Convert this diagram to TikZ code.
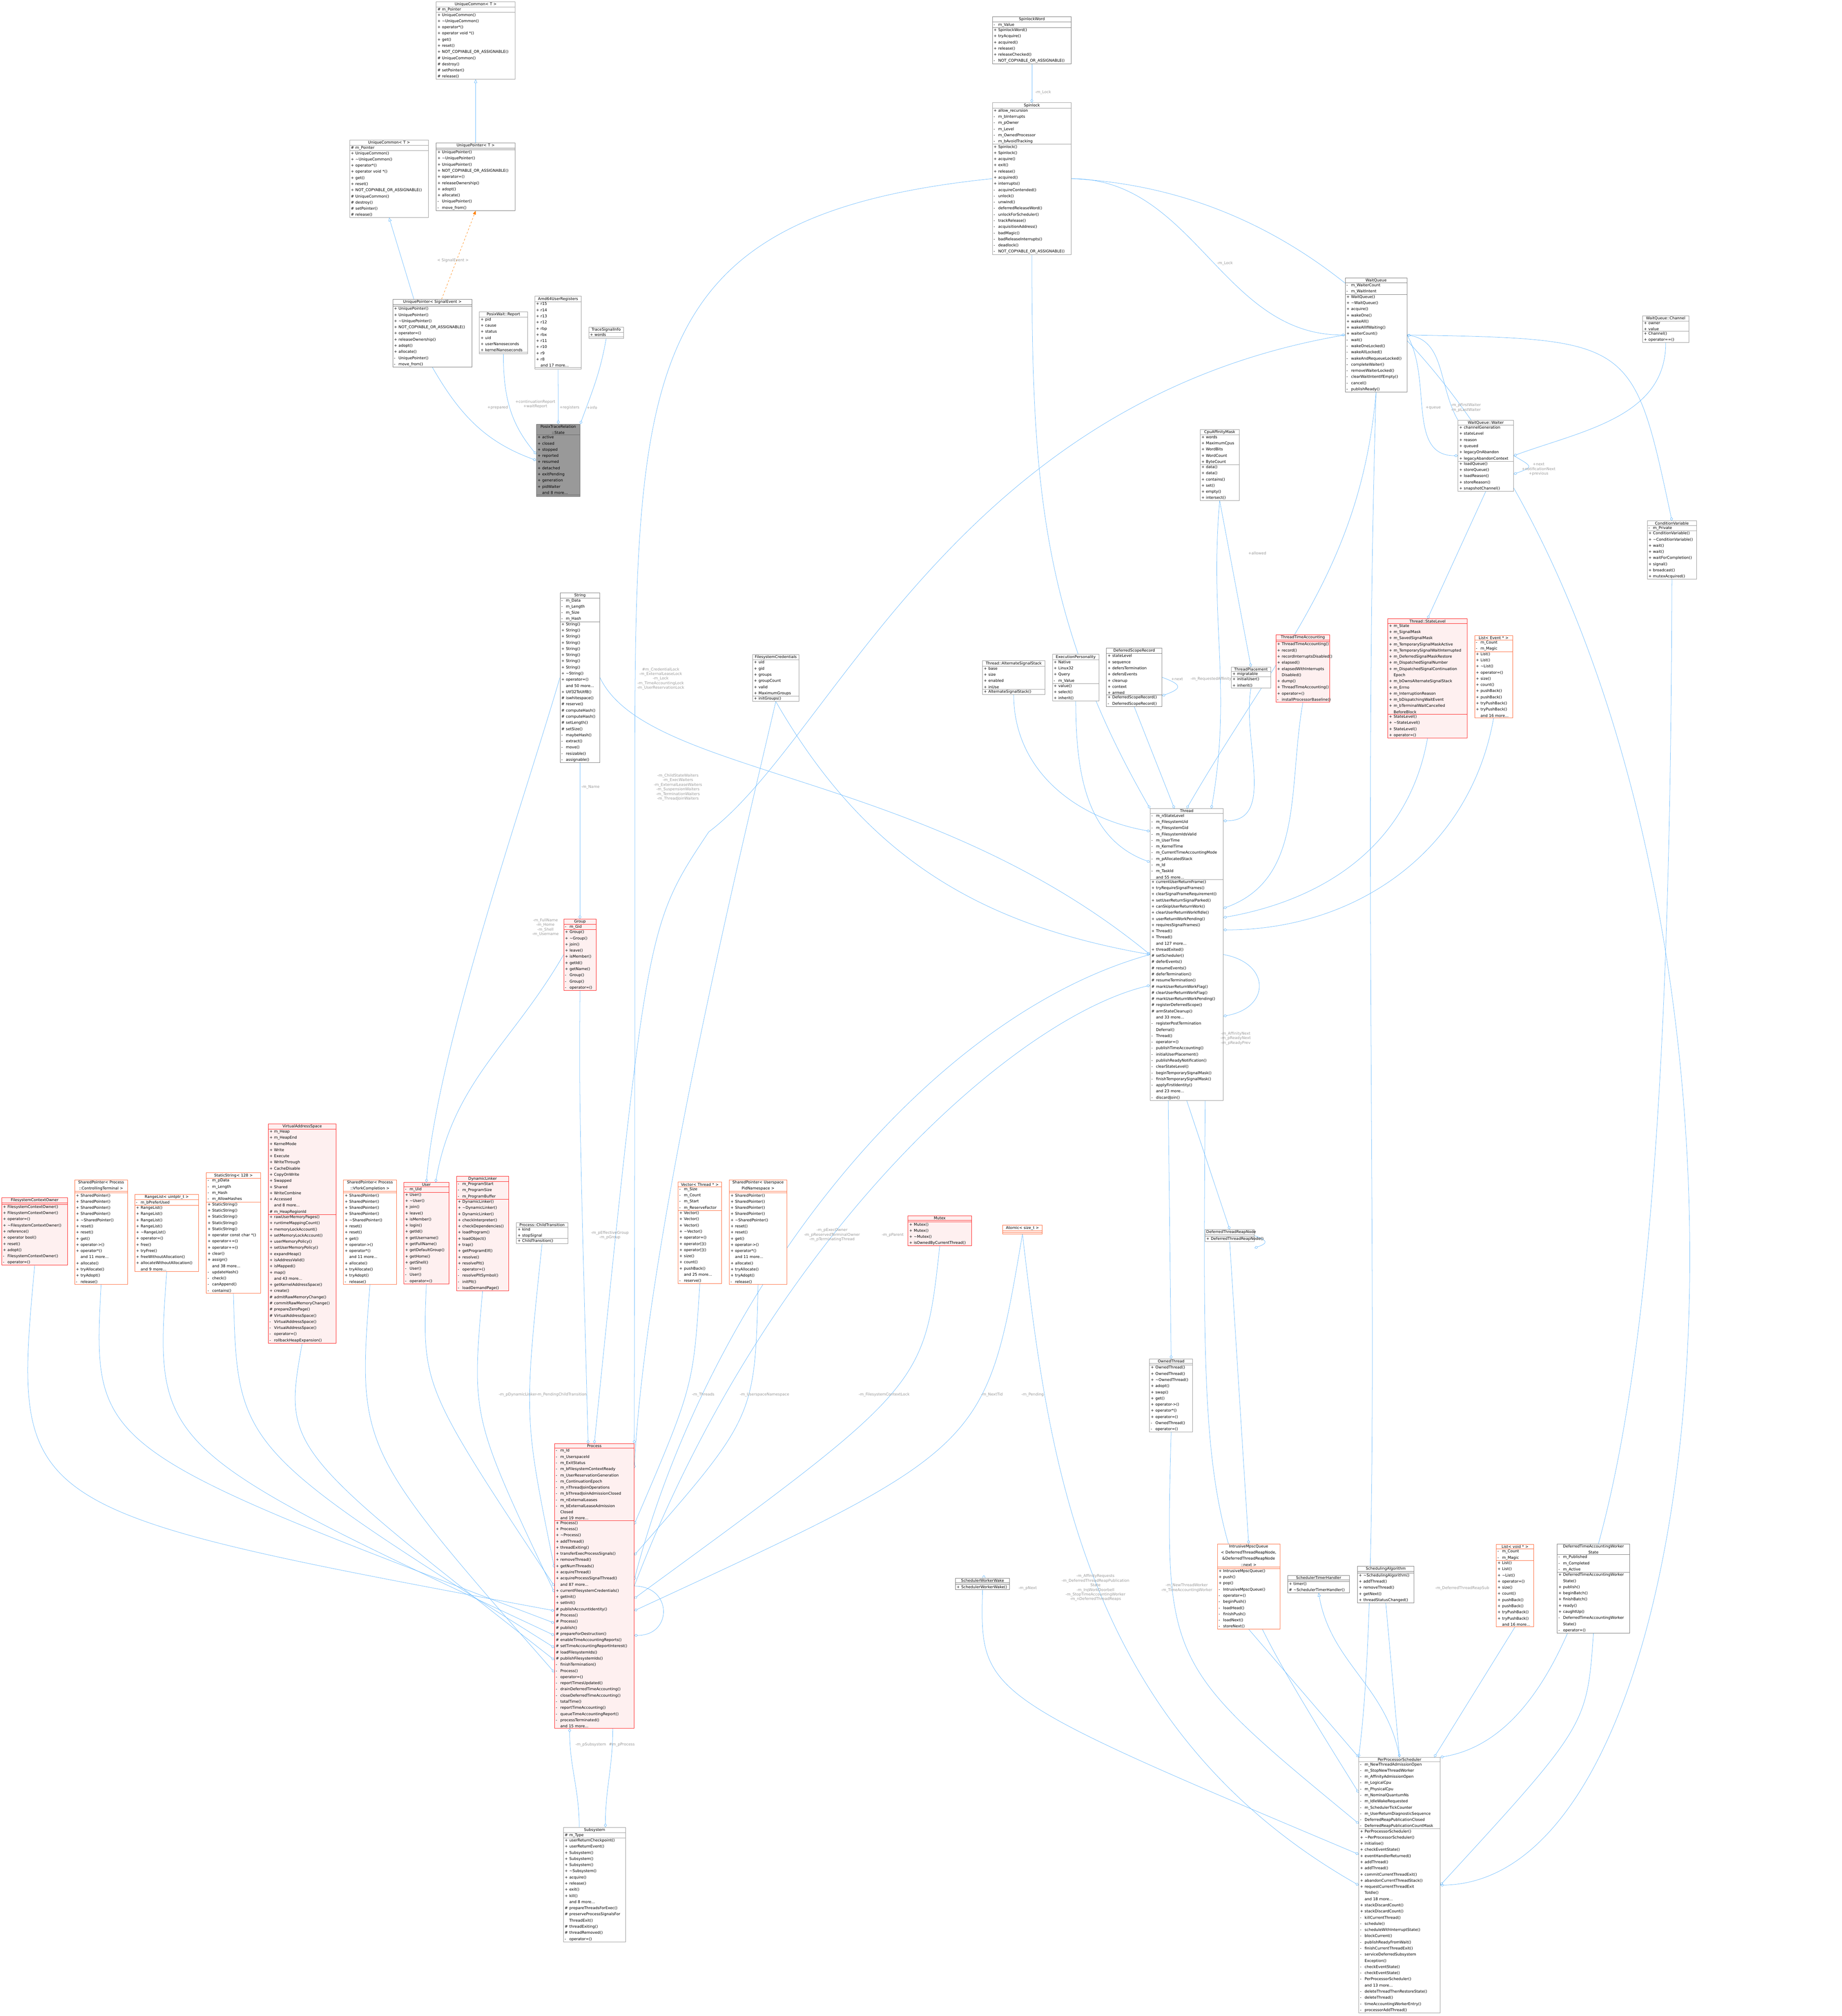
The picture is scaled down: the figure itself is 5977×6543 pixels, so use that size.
\documentclass[tikz,border=0pt]{standalone}
\usepackage{fontspec}
\setmainfont{DejaVu Sans}
\usepackage{underscore}
\usetikzlibrary{shapes.multipart,arrows.meta,backgrounds,calc}

\definecolor{edgeblue}{RGB}{99,184,255}
\definecolor{labelgray}{RGB}{154,154,154}
\definecolor{boxgray}{RGB}{150,150,150}
\definecolor{boxred}{RGB}{255,20,20}
\definecolor{boxredfill}{RGB}{254,240,240}
\definecolor{boxorange}{RGB}{255,100,50}
\definecolor{boxmain}{RGB}{153,153,153}

\newcommand{\umlfont}{\fontsize{6.2}{10}\selectfont}
\newcommand{\relfont}{\fontsize{6.2}{7.5}\selectfont}
\newcommand{\Pu}{\makebox[1.2em][l]{+}}
\newcommand{\Pv}{\makebox[1.2em][l]{-}}
\newcommand{\Ps}{\makebox[1.2em][l]{\#}}
\newcommand{\Pn}{\makebox[1.2em][l]{}}
\newcommand{\tl}{\textasciitilde}

\tikzset{
  cls/.style={rectangle split, rectangle split parts=3, draw=boxgray, fill=white,
    line width=0.6pt, inner xsep=2pt, inner ysep=1pt, font=\umlfont, align=left,
    anchor=north west},
  clsred/.style={cls, draw=boxred, fill=boxredfill},
  clsorange/.style={cls, draw=boxorange},
  clsmain/.style={cls, draw=black!60, fill=boxmain},
  has/.style={draw=edgeblue, line width=0.5pt, -{Diamond[open,length=6pt,width=4.5pt]}},
  isa/.style={draw=edgeblue, line width=0.5pt, -{Triangle[open,length=6pt,width=5pt]}},
  tmpl/.style={draw=orange, dashed, line width=0.5pt, -{Triangle[length=6pt,width=5pt]}},
  rel/.style={font=\relfont, text=labelgray, align=center, inner sep=0pt},
}

% class box: style, name, x, y, width, title, attributes, methods
\newcommand{\umlclass}[8]{%
  \node[#1, text width=#5*0.5pt-4pt] (#2) at (#3,#4)
    {\parbox{\linewidth}{\centering #6}\nodepart{two}#7\nodepart{three}#8};}

\begin{document}
\begin{tikzpicture}[x=0.5pt,y=-0.5pt]
\useasboundingbox (0,0) rectangle (5977,6543);

% ----------------------------------------------------------
% Top: pointers, registers, spinlocks
% ----------------------------------------------------------
\umlclass{cls}{ucTop}{1415}{5}{256}{UniqueCommon< T >}
  {\Ps m_Pointer}
  {\Pu UniqueCommon()\\\Pu \tl UniqueCommon()\\\Pu operator*()\\\Pu operator void *()\\\Pu get()\\\Pu reset()\\\Pu NOT_COPYABLE_OR_ASSIGNABLE()\\\Ps UniqueCommon()\\\Ps destroy()\\\Ps setPointer()\\\Ps release()}
\umlclass{cls}{ucLeft}{1134}{454}{256}{UniqueCommon< T >}
  {\Ps m_Pointer}
  {\Pu UniqueCommon()\\\Pu \tl UniqueCommon()\\\Pu operator*()\\\Pu operator void *()\\\Pu get()\\\Pu reset()\\\Pu NOT_COPYABLE_OR_ASSIGNABLE()\\\Ps UniqueCommon()\\\Ps destroy()\\\Ps setPointer()\\\Ps release()}
\umlclass{cls, draw=black!55}{upt}{1415}{463}{256}{UniquePointer< T >}
  {\mbox{}}
  {\Pu UniquePointer()\\\Pu \tl UniquePointer()\\\Pu UniquePointer()\\\Pu NOT_COPYABLE_OR_ASSIGNABLE()\\\Pu operator=()\\\Pu releaseOwnership()\\\Pu adopt()\\\Pu allocate()\\\Pv UniquePointer()\\\Pv move_from()}
\umlclass{cls, draw=black!55}{upse}{1274}{971}{257}{UniquePointer< SignalEvent >}
  {\mbox{}}
  {\Pu UniquePointer()\\\Pu UniquePointer()\\\Pu \tl UniquePointer()\\\Pu NOT_COPYABLE_OR_ASSIGNABLE()\\\Pu operator=()\\\Pu releaseOwnership()\\\Pu adopt()\\\Pu allocate()\\\Pv UniquePointer()\\\Pv move_from()}
\umlclass{cls}{report}{1555}{1011}{156}{PosixWait::Report}
  {\Pu pid\\\Pu cause\\\Pu status\\\Pu uid\\\Pu userNanoseconds\\\Pu kernelNanoseconds}
  {\mbox{}}
\umlclass{cls}{amd}{1735}{961}{151}{Amd64UserRegisters}
  {\Pu r15\\\Pu r14\\\Pu r13\\\Pu r12\\\Pu rbp\\\Pu rbx\\\Pu r11\\\Pu r10\\\Pu r9\\\Pu r8\\\Pn and 17 more...}
  {\mbox{}}
\umlclass{cls}{tsi}{1910}{1061}{113}{TraceSignalInfo}
  {\Pu words}
  {\mbox{}}
\umlclass{clsmain}{state}{1740}{1376}{142}{PosixTraceRelation\\::State}
  {\Pu active\\\Pu closed\\\Pu stopped\\\Pu reported\\\Pu resumed\\\Pu detached\\\Pu exitPending\\\Pu generation\\\Pu pidWaiter\\\Pn and 8 more...}
  {\mbox{}}
\umlclass{cls, draw=black!55}{spinword}{3220}{54}{256}{SpinlockWord}
  {\Pv m_Value}
  {\Pu SpinlockWord()\\\Pu tryAcquire()\\\Pu acquired()\\\Pu release()\\\Pu releaseChecked()\\\Pv NOT_COPYABLE_OR_ASSIGNABLE()}
\umlclass{cls}{spinlock}{3220}{333}{256}{Spinlock}
  {\Pu allow_recursion\\\Pv m_bInterrupts\\\Pv m_pOwner\\\Pv m_Level\\\Pv m_OwnedProcessor\\\Pv m_bAvoidTracking}
  {\Pu Spinlock()\\\Pu Spinlock()\\\Pu acquire()\\\Pu exit()\\\Pu release()\\\Pu acquired()\\\Pu interrupts()\\\Pv acquireContended()\\\Pv unlock()\\\Pv unwind()\\\Pv deferredReleaseWord()\\\Pv unlockForScheduler()\\\Pv trackRelease()\\\Pv acquisitionAddress()\\\Pv badMagic()\\\Pv badReleaseInterrupts()\\\Pv deadlock()\\\Pv NOT_COPYABLE_OR_ASSIGNABLE()}

% ----------------------------------------------------------
% Wait queues
% ----------------------------------------------------------
\umlclass{cls, draw=black!55}{waitqueue}{4365}{901}{200}{WaitQueue}
  {\Pv m_WaiterCount\\\Pv m_WaitIntent}
  {\Pu WaitQueue()\\\Pu \tl WaitQueue()\\\Pu acquire()\\\Pu wakeOne()\\\Pu wakeAll()\\\Pu wakeAllIfWaiting()\\\Pu waiterCount()\\\Pv wait()\\\Pv wakeOneLocked()\\\Pv wakeAllLocked()\\\Pv wakeAndRequeueLocked()\\\Pv completeWaiter()\\\Pv removeWaiterLocked()\\\Pv clearWaitIntentIfEmpty()\\\Pv cancel()\\\Pv publishReady()}
\umlclass{cls}{channel}{5330}{1025}{150}{WaitQueue::Channel}
  {\Pu owner\\\Pu value}
  {\Pu Channel()\\\Pu operator==()}
\umlclass{cls}{waiter}{4731}{1363}{180}{WaitQueue::Waiter}
  {\Pu channelGeneration\\\Pu stateLevel\\\Pu reason\\\Pu queued\\\Pu legacyOnAbandon\\\Pu legacyAbandonContext}
  {\Pu loadQueue()\\\Pu storeQueue()\\\Pu loadReason()\\\Pu storeReason()\\\Pu snapshotChannel()}
\umlclass{cls}{condvar}{5345}{1690}{160}{ConditionVariable}
  {\Pv m_Private}
  {\Pu ConditionVariable()\\\Pu \tl ConditionVariable()\\\Pu wait()\\\Pu wait()\\\Pu waitForCompletion()\\\Pu signal()\\\Pu broadcast()\\\Pu mutexAcquired()}

% ----------------------------------------------------------
% Thread and its parts
% ----------------------------------------------------------
\umlclass{cls}{cpu}{3894}{1393}{127}{CpuAffinityMask}
  {\Pu words\\\Pu MaximumCpus\\\Pu WordBits\\\Pu WordCount\\\Pu ByteCount}
  {\Pu data()\\\Pu data()\\\Pu contains()\\\Pu set()\\\Pu empty()\\\Pu intersect()}
\umlclass{cls, draw=black!55}{string}{1817}{1923}{129}{String}
  {\Pv m_Data\\\Pv m_Length\\\Pv m_Size\\\Pv m_Hash}
  {\Pu String()\\\Pu String()\\\Pu String()\\\Pu String()\\\Pu String()\\\Pu String()\\\Pu String()\\\Pu String()\\\Pu \tl String()\\\Pu operator=()\\\Pn and 50 more...\\\Pu Utf32ToUtf8()\\\Ps iswhitespace()\\\Ps reserve()\\\Ps computeHash()\\\Ps computeHash()\\\Ps setLength()\\\Ps setSize()\\\Pv maybeHash()\\\Pv extract()\\\Pv move()\\\Pv resizable()\\\Pv assignable()}
\umlclass{cls}{fcred}{2442}{2124}{150}{FilesystemCredentials}
  {\Pu uid\\\Pu gid\\\Pu groups\\\Pu groupCount\\\Pu valid\\\Pu MaximumGroups}
  {\Pu initGroups()}
\umlclass{cls}{altstack}{3188}{2144}{202}{Thread::AlternateSignalStack}
  {\Pu base\\\Pu size\\\Pu enabled\\\Pu inUse}
  {\Pu AlternateSignalStack()}
\umlclass{cls}{execpers}{3415}{2123}{151}{ExecutionPersonality}
  {\Pu Native\\\Pu Linux32\\\Pu Query\\\Pv m_Value}
  {\Pu value()\\\Pu select()\\\Pu inherit()}
\umlclass{cls, draw=black!55}{dsr}{3590}{2103}{180}{DeferredScopeRecord}
  {\Pu stateLevel\\\Pu sequence\\\Pu defersTermination\\\Pu defersEvents\\\Pu cleanup\\\Pu context\\\Pu armed}
  {\Pu DeferredScopeRecord()\\\Pv DeferredScopeRecord()}
\umlclass{cls}{placement}{3995}{2164}{128}{ThreadPlacement}
  {\Pu migratable}
  {\Pu initialUser()\\\Pu inherit()}
\umlclass{clsred}{tta}{4140}{2060}{175}{ThreadTimeAccounting}
  {\mbox{}}
  {\Pu ThreadTimeAccounting()\\\Pu record()\\\Pu recordInterruptsDisabled()\\\Pu elapsed()\\\Pu elapsedWithInterrupts\\\Pn Disabled()\\\Pu dump()\\\Pu ThreadTimeAccounting()\\\Pu operator=()\\\Pv installProcessorBaseline()}
\umlclass{clsred}{statelevel}{4503}{2008}{258}{Thread::StateLevel}
  {\Pu m_State\\\Pu m_SignalMask\\\Pu m_SavedSignalMask\\\Pu m_TemporarySignalMaskActive\\\Pu m_TemporarySignalWaitInterrupted\\\Pu m_DeferredSignalMaskRestore\\\Pu m_DispatchedSignalNumber\\\Pu m_DispatchedSignalContinuation\\\Pn Epoch\\\Pu m_bOwnsAlternateSignalStack\\\Pu m_Errno\\\Pu m_InterruptionReason\\\Pu m_bDispatchingWaitEvent\\\Pu m_bTerminalWaitCancelled\\\Pn BeforeBlock}
  {\Pu StateLevel()\\\Pu \tl StateLevel()\\\Pu StateLevel()\\\Pu operator=()}
\umlclass{clsorange}{listev}{4785}{2062}{123}{List< Event * >}
  {\Pv m_Count\\\Pv m_Magic}
  {\Pu List()\\\Pu List()\\\Pu \tl List()\\\Pu operator=()\\\Pu size()\\\Pu count()\\\Pu pushBack()\\\Pu pushBack()\\\Pu tryPushBack()\\\Pu tryPushBack()\\\Pn and 16 more...}
\umlclass{cls}{thread}{3732}{2624}{237}{Thread}
  {\Pv m_nStateLevel\\\Pv m_FilesystemUid\\\Pv m_FilesystemGid\\\Pv m_FilesystemIdsValid\\\Pv m_UserTime\\\Pv m_KernelTime\\\Pv m_CurrentTimeAccountingMode\\\Pv m_pAllocatedStack\\\Pv m_Id\\\Pv m_TaskId\\\Pn and 55 more...}
  {\Pu currentUserReturnFrame()\\\Pu tryRequireSignalFrames()\\\Pu clearSignalFrameRequirement()\\\Pu setUserReturnSignalParked()\\\Pu canSkipUserReturnWork()\\\Pu clearUserReturnWorkIfIdle()\\\Pu userReturnWorkPending()\\\Pu requiresSignalFrames()\\\Pu Thread()\\\Pu Thread()\\\Pn and 127 more...\\\Pu threadExited()\\\Ps setScheduler()\\\Ps deferEvents()\\\Ps resumeEvents()\\\Ps deferTermination()\\\Ps resumeTermination()\\\Ps markUserReturnWorkFlag()\\\Ps clearUserReturnWorkFlag()\\\Ps markUserReturnWorkPending()\\\Ps registerDeferredScope()\\\Ps armStateCleanup()\\\Pn and 33 more...\\\Pv registerPostTermination\\\Pn Deferral()\\\Pv Thread()\\\Pv operator=()\\\Pv publishTimeAccounting()\\\Pv initialUserPlacement()\\\Pv publishReadyNotification()\\\Pv clearStateLevel()\\\Pv beginTemporarySignalMask()\\\Pv finishTemporarySignalMask()\\\Pv applyFirstIdentity()\\\Pn and 23 more...\\\Pv discardJoin()}
\umlclass{clsred}{group}{1829}{2982}{105}{Group}
  {\Pv m_Gid}
  {\Pu Group()\\\Pu \tl Group()\\\Pu join()\\\Pu leave()\\\Pu isMember()\\\Pu getId()\\\Pu getName()\\\Pv Group()\\\Pv Group()\\\Pv operator=()}

% ----------------------------------------------------------
% Row of process members
% ----------------------------------------------------------
\umlclass{clsred}{fco}{5}{3886}{214}{FilesystemContextOwner}
  {\mbox{}}
  {\Pu FilesystemContextOwner()\\\Pu FilesystemContextOwner()\\\Pu operator=()\\\Pu \tl FilesystemContextOwner()\\\Pu reference()\\\Pu operator bool()\\\Pu reset()\\\Pu adopt()\\\Pv FilesystemContextOwner()\\\Pv operator=()}
\umlclass{clsorange}{spct}{242}{3829}{171}{SharedPointer< Process\\::ControllingTerminal >}
  {\mbox{}}
  {\Pu SharedPointer()\\\Pu SharedPointer()\\\Pu SharedPointer()\\\Pu SharedPointer()\\\Pu \tl SharedPointer()\\\Pu reset()\\\Pu reset()\\\Pu get()\\\Pu operator->()\\\Pu operator*()\\\Pn and 11 more...\\\Pu allocate()\\\Pu tryAllocate()\\\Pu tryAdopt()\\\Pv release()}
\umlclass{clsorange}{rangelist}{437}{3876}{207}{RangeList< uintptr_t >}
  {\Pv m_bPreferUsed}
  {\Pu RangeList()\\\Pu RangeList()\\\Pu RangeList()\\\Pu RangeList()\\\Pu \tl RangeList()\\\Pu operator=()\\\Pu free()\\\Pu tryFree()\\\Pu freeWithoutAllocation()\\\Pu allocateWithoutAllocation()\\\Pn and 9 more...}
\umlclass{clsorange}{sstr}{669}{3806}{176}{StaticString< 128 >}
  {\Pv m_pData\\\Pv m_Length\\\Pv m_Hash\\\Pv m_AllowHashes}
  {\Pu StaticString()\\\Pu StaticString()\\\Pu StaticString()\\\Pu StaticString()\\\Pu StaticString()\\\Pu operator const char *()\\\Pu operator+=()\\\Pu operator+=()\\\Pu clear()\\\Pu assign()\\\Pn and 38 more...\\\Pv updateHash()\\\Pv check()\\\Pv canAppend()\\\Pv contains()}
\umlclass{clsred}{vas}{870}{3647}{220}{VirtualAddressSpace}
  {\Pu m_Heap\\\Pu m_HeapEnd\\\Pu KernelMode\\\Pu Write\\\Pu Execute\\\Pu WriteThrough\\\Pu CacheDisable\\\Pu CopyOnWrite\\\Pu Swapped\\\Pu Shared\\\Pu WriteCombine\\\Pu Accessed\\\Pn and 8 more...\\\Ps m_HeapRegionId}
  {\Pu rawUserMemoryPages()\\\Pu runtimeMappingCount()\\\Pu memoryLockAccount()\\\Pu setMemoryLockAccount()\\\Pu userMemoryPolicy()\\\Pu setUserMemoryPolicy()\\\Pu expandHeap()\\\Pu isAddressValid()\\\Pu isMapped()\\\Pu map()\\\Pn and 43 more...\\\Pu getKernelAddressSpace()\\\Pu create()\\\Ps admitRawMemoryChange()\\\Ps commitRawMemoryChange()\\\Ps prepareZeroPage()\\\Ps VirtualAddressSpace()\\\Pv VirtualAddressSpace()\\\Pv VirtualAddressSpace()\\\Pv operator=()\\\Pv rollbackHeapExpansion()}
\umlclass{clsorange}{spvc}{1114}{3829}{172}{SharedPointer< Process\\::VforkCompletion >}
  {\mbox{}}
  {\Pu SharedPointer()\\\Pu SharedPointer()\\\Pu SharedPointer()\\\Pu SharedPointer()\\\Pu \tl SharedPointer()\\\Pu reset()\\\Pu reset()\\\Pu get()\\\Pu operator->()\\\Pu operator*()\\\Pn and 11 more...\\\Pu allocate()\\\Pu tryAllocate()\\\Pu tryAdopt()\\\Pv release()}
\umlclass{clsred}{user}{1310}{3837}{146}{User}
  {\Pv m_Uid}
  {\Pu User()\\\Pu \tl User()\\\Pu join()\\\Pu leave()\\\Pu isMember()\\\Pu login()\\\Pu getId()\\\Pu getUsername()\\\Pu getFullName()\\\Pu getDefaultGroup()\\\Pu getHome()\\\Pu getShell()\\\Pv User()\\\Pv User()\\\Pv operator=()}
\umlclass{clsred}{dl}{1481}{3817}{169}{DynamicLinker}
  {\Pv m_ProgramStart\\\Pv m_ProgramSize\\\Pv m_ProgramBuffer}
  {\Pu DynamicLinker()\\\Pu \tl DynamicLinker()\\\Pu DynamicLinker()\\\Pu checkInterpreter()\\\Pu checkDependencies()\\\Pu loadProgram()\\\Pu loadObject()\\\Pu trap()\\\Pu getProgramElf()\\\Pu resolve()\\\Pu resolvePlt()\\\Pv operator=()\\\Pv resolvePltSymbol()\\\Pv initPlt()\\\Pv loadDemandPage()}
\umlclass{cls}{chtr}{1675}{3967}{167}{Process::ChildTransition}
  {\Pu kind\\\Pu stopSignal}
  {\Pu ChildTransition()}
\umlclass{clsorange}{vector}{2200}{3836}{141}{Vector< Thread * >}
  {\Pv m_Size\\\Pv m_Count\\\Pv m_Start\\\Pv m_ReserveFactor}
  {\Pu Vector()\\\Pu Vector()\\\Pu Vector()\\\Pu \tl Vector()\\\Pu operator=()\\\Pu operator[]()\\\Pu operator[]()\\\Pu size()\\\Pu count()\\\Pu pushBack()\\\Pn and 25 more...\\\Pv reserve()}
\umlclass{clsorange}{spupn}{2366}{3829}{187}{SharedPointer< Userspace\\PidNamespace >}
  {\mbox{}}
  {\Pu SharedPointer()\\\Pu SharedPointer()\\\Pu SharedPointer()\\\Pu SharedPointer()\\\Pu \tl SharedPointer()\\\Pu reset()\\\Pu reset()\\\Pu get()\\\Pu operator->()\\\Pu operator*()\\\Pn and 11 more...\\\Pu allocate()\\\Pu tryAllocate()\\\Pu tryAdopt()\\\Pv release()}
\umlclass{clsred}{mutex}{2946}{3946}{206}{Mutex}
  {\mbox{}}
  {\Pu Mutex()\\\Pu Mutex()\\\Pu \tl Mutex()\\\Pu isOwnedByCurrentThread()}
\umlclass{clsorange}{atomic}{3253}{3976}{129}{Atomic< size_t >}
  {\mbox{}}
  {\mbox{}}
\umlclass{cls}{dtrn}{3910}{3990}{160}{DeferredThreadReapNode}
  {\mbox{}}
  {\Pu DeferredThreadReapNode()}
\umlclass{cls}{owned}{3730}{4410}{140}{OwnedThread}
  {\mbox{}}
  {\Pu OwnedThread()\\\Pu OwnedThread()\\\Pu \tl OwnedThread()\\\Pu adopt()\\\Pu swap()\\\Pu get()\\\Pu operator->()\\\Pu operator*()\\\Pu operator=()\\\Pv OwnedThread()\\\Pv operator=()}

% ----------------------------------------------------------
% Process, subsystem, scheduler
% ----------------------------------------------------------
\umlclass{clsred}{process}{1799}{4685}{258}{Process}
  {\Pv m_Id\\\Pv m_UserspaceId\\\Pv m_ExitStatus\\\Pv m_bFilesystemContextReady\\\Pv m_UserReservationGeneration\\\Pv m_ContinuationEpoch\\\Pv m_nThreadJoinOperations\\\Pv m_bThreadJoinAdmissionClosed\\\Pv m_nExternalLeases\\\Pv m_bExternalLeaseAdmission\\\Pn Closed\\\Pn and 19 more...}
  {\Pu Process()\\\Pu Process()\\\Pu \tl Process()\\\Pu addThread()\\\Pu threadExiting()\\\Pu transferExecProcessSignals()\\\Pu removeThread()\\\Pu getNumThreads()\\\Pu acquireThread()\\\Pu acquireProcessSignalThread()\\\Pn and 87 more...\\\Pu currentFilesystemCredentials()\\\Pu getInit()\\\Pu setInit()\\\Ps publishAccountIdentity()\\\Ps Process()\\\Ps Process()\\\Ps publish()\\\Ps prepareForDestruction()\\\Ps enableTimeAccountingReports()\\\Ps setTimeAccountingReportInterest()\\\Ps loadFilesystemIds()\\\Ps publishFilesystemIds()\\\Pv finishTermination()\\\Pv Process()\\\Pv operator=()\\\Pv reportTimesUpdated()\\\Pv drainDeferredTimeAccounting()\\\Pv closeDeferredTimeAccounting()\\\Pv totalTime()\\\Pv reportTimeAccounting()\\\Pv queueTimeAccountingReport()\\\Pv processTerminated()\\\Pn and 15 more...}
\umlclass{cls}{subsystem}{1828}{5930}{202}{Subsystem}
  {\Ps m_Type}
  {\Pu userReturnCheckpoint()\\\Pu userReturnEvent()\\\Pu Subsystem()\\\Pu Subsystem()\\\Pu Subsystem()\\\Pu \tl Subsystem()\\\Pu acquire()\\\Pu release()\\\Pu exit()\\\Pu kill()\\\Pn and 8 more...\\\Ps prepareThreadsForExec()\\\Ps preserveProcessSignalsFor\\\Pn ThreadExit()\\\Ps threadExiting()\\\Ps threadRemoved()\\\Pv operator=()}
\umlclass{cls, draw=black!55}{swwake}{3100}{5122}{176}{SchedulerWorkerWake}
  {\mbox{}}
  {\Pu SchedulerWorkerWake()}
\umlclass{clsorange}{imq}{3950}{5010}{203}{IntrusiveMpscQueue\\< DeferredThreadReapNode,\\ \&DeferredThreadReapNode\\::next >}
  {\mbox{}}
  {\Pu IntrusiveMpscQueue()\\\Pu push()\\\Pu pop()\\\Pv IntrusiveMpscQueue()\\\Pv operator=()\\\Pv beginPush()\\\Pv loadHead()\\\Pv finishPush()\\\Pv loadNext()\\\Pv storeNext()}
\umlclass{cls, draw=black!55}{sth}{4178}{5112}{201}{SchedulerTimerHandler}
  {\mbox{}}
  {\Pu timer()\\\Ps \tl SchedulerTimerHandler()}
\umlclass{cls, draw=black!55}{salg}{4405}{5082}{183}{SchedulingAlgorithm}
  {\mbox{}}
  {\Pu \tl SchedulingAlgorithm()\\\Pu addThread()\\\Pu removeThread()\\\Pu getNext()\\\Pu threadStatusChanged()}
\umlclass{clsorange}{listvoid}{4855}{5012}{122}{List< void * >}
  {\Pv m_Count\\\Pv m_Magic}
  {\Pu List()\\\Pu List()\\\Pu \tl List()\\\Pu operator=()\\\Pu size()\\\Pu count()\\\Pu pushBack()\\\Pu pushBack()\\\Pu tryPushBack()\\\Pu tryPushBack()\\\Pn and 16 more...}
\umlclass{cls, draw=black!55}{dtaws}{5053}{5010}{235}{DeferredTimeAccountingWorker\\State}
  {\Pv m_Published\\\Pv m_Completed\\\Pv m_Active}
  {\Pu DeferredTimeAccountingWorker\\\Pn State()\\\Pu publish()\\\Pu beginBatch()\\\Pu finishBatch()\\\Pu ready()\\\Pu caughtUp()\\\Pv DeferredTimeAccountingWorker\\\Pn State()\\\Pv operator=()}
\umlclass{cls}{pps}{4409}{5703}{264}{PerProcessorScheduler}
  {\Pv m_NewThreadAdmissionOpen\\\Pv m_StopNewThreadWorker\\\Pv m_AffinityAdmissionOpen\\\Pv m_LogicalCpu\\\Pv m_PhysicalCpu\\\Pv m_NominalQuantumNs\\\Pv m_IdleWakeRequested\\\Pv m_SchedulerTickCounter\\\Pv m_UserReturnDiagnosticSequence\\\Pv DeferredReapPublicationClosed\\\Pv DeferredReapPublicationCountMask}
  {\Pu PerProcessorScheduler()\\\Pu \tl PerProcessorScheduler()\\\Pu initialise()\\\Pu checkEventState()\\\Pu eventHandlerReturned()\\\Pu addThread()\\\Pu addThread()\\\Pu commitCurrentThreadExit()\\\Pu abandonCurrentThreadStack()\\\Pu requestCurrentThreadExit\\\Pn ToIdle()\\\Pn and 18 more...\\\Pu stackDiscardCount()\\\Pu stackDiscardCount()\\\Pv killCurrentThread()\\\Pv schedule()\\\Pv scheduleWithInterruptState()\\\Pv blockCurrent()\\\Pv publishReadyFromWait()\\\Pv finishCurrentThreadExit()\\\Pv serviceDeferredSubsystem\\\Pn Exception()\\\Pv checkEventState()\\\Pv checkEventState()\\\Pv PerProcessorScheduler()\\\Pn and 13 more...\\\Pv deleteThreadThenRestoreState()\\\Pv deleteThread()\\\Pv timeAccountingWorkerEntry()\\\Pv processorAddThread()}

% ----------------------------------------------------------
% Relation labels
% ----------------------------------------------------------
\node[rel] (lblSig) at (1470,845) {< SignalEvent >};
\node[rel] (lblPrep) at (1615,1323) {+prepared};
\node[rel] (lblWait) at (1737,1312) {+continuationReport\\+waitReport};
\node[rel] (lblRegs) at (1848,1323) {+registers};
\node[rel] (lblInfo) at (1921,1323) {+info};
\node[rel] (lblWord) at (3385,300) {-m_Lock};
\node[rel] (lblWqLock) at (3975,855) {-m_Lock};
\node[rel] (lblLocks) at (2144,2203) {\#m_CredentialLock\\-m_ExternalLeaseLock\\-m_Lock\\-m_TimeAccountingLock\\-m_UserReservationLock};
\node[rel] (lblWaiters) at (2200,2555) {-m_ChildStateWaiters\\-m_ExecWaiters\\-m_ExternalLeaseWaiters\\-m_SuspensionWaiters\\-m_TerminationWaiters\\-m_ThreadJoinWaiters};
\node[rel] (lblQueue) at (4651,1324) {+queue};
\node[rel] (lblFirst) at (4757,1323) {-m_pFirstWaiter\\-m_pLastWaiter};
\node[rel] (lblNext) at (4993,1523) {+next\\+notificationNext\\+previous};
\node[rel] (lblName) at (1916,2555) {-m_Name};
\node[rel] (lblUserStr) at (1770,3010) {-m_FullName\\-m_Home\\-m_Shell\\-m_Username};
\node[rel] (lblAllowed) at (4080,1795) {+allowed};
\node[rel] (lblAffinity) at (3930,2204) {-m_RequestedAffinity};
\node[rel] (lblScNext) at (3820,2204) {+next};
\node[rel] (lblGroup) at (1979,4009) {-m_pEffectiveGroup\\-m_pGroup};
\node[rel] (lblOwners) at (2700,4008) {-m_pExecOwner\\-m_pReservedTerminalOwner\\-m_pTerminatingThread};
\node[rel] (lblParent) at (2897,4008) {-m_pParent};
\node[rel] (lblChild) at (1822,4527) {-m_PendingChildTransition};
\node[rel] (lblDl) at (1680,4527) {-m_pDynamicLinker};
\node[rel] (lblThreads) at (2282,4527) {-m_Threads};
\node[rel] (lblNs) at (2481,4527) {-m_UserspaceNamespace};
\node[rel] (lblFsLock) at (2869,4527) {-m_FilesystemContextLock};
\node[rel] (lblTid) at (3219,4527) {-m_NextTid};
\node[rel] (lblPending) at (3351,4527) {-m_Pending};
\node[rel] (lblThAff) at (4010,3370) {-m_AffinityNext\\-m_pReadyNext\\-m_pReadyPrev};
\node[rel] (lblSub) at (1917,5662) {-m_pSubsystem};
\node[rel] (lblProc) at (2018,5662) {\#m_pProcess};
\node[rel] (lblWake) at (3335,5155) {-m_pNext};
\node[rel] (lblAtomics) at (3555,5153) {-m_AffinityRequests\\-m_DeferredThreadReapPublication\\State\\-m_IrqWorkDoorbell\\-m_StopTimeAccountingWorker\\-m_nDeferredThreadReaps};
\node[rel] (lblWorkers) at (3851,5153) {-m_NewThreadWorker\\-m_TimeAccountingWorker};
\node[rel] (lblReapSub) at (4745,5155) {-m_DeferredThreadReapSub};

% ----------------------------------------------------------
% Connectors
% ----------------------------------------------------------
\begin{scope}[on background layer]
\fill[white] (0,0) rectangle (5977,6543);
% inheritance
\draw[isa] (upt.north) -- (ucTop.south);
\draw[isa] ($(upse.north)+(-60,0)$) -- (ucLeft.south);
\draw[tmpl] ($(upse.north)+(30,0)$) -- (upt.south);
\draw[isa] (pps.north) to[out=100,in=-80] (sth.south);
% state members
\draw[has] (upse.south) to[out=-60,in=160] (state.west);
\draw[has] (report.south) to[out=-90,in=130] ($(state.west)+(0,-20)$);
\draw[has] (amd.south) -- (state.north);
\draw[has] (tsi.south) to[out=-100,in=70] (state.north east);
% locks
\draw[has] (spinword.south) -- (spinlock.north);
\draw[has] (spinlock.east) to[out=0,in=180] (waitqueue.west);
\draw[has] (spinlock.west) .. controls (2060,700) and (2060,1200) .. (2060,2600) .. controls (2060,3600) .. (process.north east);
\draw[has] (spinlock.south) to[out=-90,in=120] (thread.north west);
\draw[has] (spinlock.east) .. controls (5900,700) and (5900,6100) .. (pps.east);
% wait queues
\draw[has] (waitqueue.west) .. controls (3100,1300) and (2700,2400) .. (2300,2700) .. controls (2100,3000) .. (process.north);
\draw[has] (waitqueue.south) to[out=-95,in=60] (thread.north);
\draw[has] (waitqueue.east) to[out=-60,in=180] (waiter.west);
\draw[has] (waiter.north west) to[out=120,in=-10] (waitqueue.east);
\draw[has] (waiter.east) to[out=-30,in=20,looseness=3] ($(waiter.east)+(0,60)$);
\draw[has] (channel.south) to[out=-90,in=20] (waiter.east);
\draw[has] (waitqueue.east) .. controls (5300,1100) .. (condvar.north);
\draw[has] (waiter.south) -- (statelevel.north);
\draw[has] (waitqueue.south) .. controls (4413,3000) and (4500,5000) .. (pps.north west);
\draw[has] (condvar.south) .. controls (5420,4000) and (5300,5600) .. (pps.north east);
% strings and ids
\draw[has] (string.south) -- (group.north);
\draw[has] (string.west) .. controls (1700,2600) and (1420,3400) .. (user.north);
\draw[has] (string.east) .. controls (2100,2520) and (3000,2500) .. (thread.west);
\draw[has] (group.south) .. controls (1880,3600) .. ($(process.north)+(-20,0)$);
\draw[has] (group.west) to[out=-120,in=80] ($(user.north)+(30,0)$);
\draw[has] (user.south) .. controls (1370,4500) .. (process.west);
\draw[has] (fcred.south) .. controls (2420,2700) and (2100,4000) .. ($(process.north east)+(0,80)$);
\draw[has] (fcred.south) to[out=-60,in=170] (thread.west);
% thread members
\draw[has] (cpu.south) -- (placement.north);
\draw[has] (cpu.south) to[out=-95,in=80] ($(thread.north)+(80,0)$);
\draw[has] (placement.south) to[out=-100,in=0] ($(thread.north east)+(0,40)$);
\draw[has] (altstack.south) to[out=-90,in=170] ($(thread.west)+(0,-400)$);
\draw[has] (execpers.south) to[out=-90,in=160] ($(thread.west)+(0,-300)$);
\draw[has] (dsr.south) -- ($(thread.north)+(-40,0)$);
\draw[has] (dsr.east) to[out=-20,in=20,looseness=3] ($(dsr.east)+(0,60)$);
\draw[has] (tta.south) to[out=-100,in=20] ($(thread.east)+(0,-150)$);
\draw[has] (statelevel.south) to[out=-100,in=10] ($(thread.east)+(0,-120)$);
\draw[has] (listev.south) to[out=-100,in=0] ($(thread.east)+(0,-80)$);
\draw[has] (thread.east) to[out=-10,in=10,looseness=2] ($(thread.east)+(0,200)$);
% process members
\draw[has] (fco.south) .. controls (40,4900) .. ($(process.west)+(0,80)$);
\draw[has] (spct.south) .. controls (300,4700) .. ($(process.west)+(0,120)$);
\draw[has] (rangelist.south) .. controls (500,4700) .. ($(process.west)+(0,160)$);
\draw[has] (sstr.south) .. controls (770,4700) .. ($(process.west)+(0,200)$);
\draw[has] (vas.south) .. controls (920,4700) .. ($(process.west)+(0,240)$);
\draw[has] (spvc.south) .. controls (1160,4700) .. ($(process.west)+(0,280)$);
\draw[has] (dl.south) .. controls (1530,4600) .. ($(process.west)+(0,20)$);
\draw[has] (chtr.south) .. controls (1700,4600) .. ($(process.west)+(0,-60)$);
\draw[has] (vector.south) .. controls (2250,4500) .. ($(process.east)+(0,-200)$);
\draw[has] (spupn.south) .. controls (2450,4600) .. ($(process.east)+(0,-100)$);
\draw[has] (mutex.south) .. controls (3000,4500) .. ($(process.east)+(0,40)$);
\draw[has] (atomic.south) .. controls (3200,4700) .. ($(process.east)+(0,80)$);
\draw[has] (atomic.south) .. controls (3400,4700) and (3500,5600) .. (pps.west);
\draw[has] (thread.west) .. controls (3000,3300) and (2300,4200) .. ($(process.east)+(0,-20)$);
\draw[has] (process.east) .. controls (2500,4000) and (3300,3300) .. ($(thread.west)+(0,100)$);
\draw[has] (process.east) to[out=0,in=0,looseness=2] ($(process.east)+(0,160)$);
\draw[has] ($(process.south)+(60,0)$) to[out=-90,in=90] ($(subsystem.north)+(35,0)$);
\draw[has] ($(subsystem.north)+(-50,0)$) to[out=90,in=-90] ($(process.south)+(-80,0)$);
% scheduler members
\draw[has] (thread.south) -- (dtrn.north);
\draw[has] (dtrn.east) to[out=-20,in=20,looseness=3] ($(dtrn.east)+(0,40)$);
\draw[has] (dtrn.south) -- (imq.north);
\draw[has] ($(thread.south)+(-60,0)$) -- (owned.north);
\draw[has] (owned.south) .. controls (3780,5400) .. ($(pps.west)+(0,-200)$);
\draw[has] ($(thread.south)+(60,0)$) .. controls (3900,5000) .. ($(pps.west)+(0,-300)$);
\draw[has] (swwake.north) to[out=80,in=-80,looseness=8] ($(swwake.north)+(10,0)$);
\draw[has] (swwake.south) .. controls (3180,5500) .. ($(pps.west)+(0,-100)$);
\draw[has] (imq.south) -- (pps.north west);
\draw[has] (salg.south) -- (pps.north);
\draw[has] (listvoid.south) -- ($(pps.north east)+(-20,0)$);
\draw[has] (dtaws.south) .. controls (5150,5600) .. (pps.east);
\end{scope}

\end{tikzpicture}
\end{document}
